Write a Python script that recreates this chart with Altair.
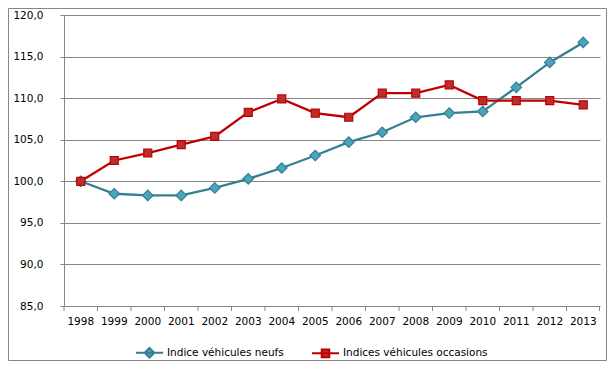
import altair as alt
import pandas as pd

years = [str(y) for y in range(1998, 2014)]
neufs = [100.0, 98.5, 98.3, 98.3, 99.2, 100.3, 101.6, 103.1, 104.7, 105.9, 107.7, 108.2, 108.4, 111.3, 114.3, 116.7]
occasions = [100.0, 102.5, 103.4, 104.4, 105.4, 108.3, 109.9, 108.2, 107.7, 110.6, 110.6, 111.6, 109.7, 109.7, 109.7, 109.2]
series = ["Indice véhicules neufs", "Indices véhicules occasions"]
y_ticks = [85, 90, 95, 100, 105, 110, 115, 120]

FONT = "DejaVu Sans"
GRID = "#868686"
BLUE_LINE = "#357F93"
BLUE_FILL = "#4AA5BC"
RED_LINE = "#C00000"
RED_FILL = "#BB2E2E"

W, H = 536, 291
PAD = {"left": 56, "top": 7, "right": 7, "bottom": 55}

df = pd.DataFrame({
    "annee": years * 2,
    "valeur": neufs + occasions,
    "serie": [series[0]] * len(years) + [series[1]] * len(years),
})
df_n = df[df.serie == series[0]]
df_o = df[df.serie == series[1]]

xscale = alt.Scale(type="band", domain=years, paddingInner=0, paddingOuter=0)
yscale = alt.Scale(domain=[85, 120], nice=False, zero=False)

x_axis = alt.Axis(ticks=False, domain=False, grid=False, labelAngle=0,
                  labelFont=FONT, labelFontSize=10.5, labelColor="#000",
                  labelPadding=10)
x_enc = alt.X("annee:O", scale=xscale, bandPosition=0.5, title=None, axis=x_axis)
y_enc = alt.Y("valeur:Q", scale=yscale, title=None,
              axis=alt.Axis(values=y_ticks, grid=True, gridColor=GRID, gridWidth=1,
                            domain=True, domainColor=GRID, domainWidth=1,
                            ticks=True, tickColor=GRID, tickSize=4,
                            labelFont=FONT, labelFontSize=10.5, labelColor="#000",
                            labelPadding=17,
                            labelExpr="replace(format(datum.value, '.1f'), '.', ',')"))

def series_layers(data, line_color, fill_color, shape, size):
    line = alt.Chart(data).mark_line(color=line_color, strokeWidth=2.3).encode(x=x_enc, y=y_enc)
    pts = alt.Chart(data).mark_point(shape=shape, filled=True, fill=fill_color,
                                     stroke=line_color, strokeWidth=1.2, size=size,
                                     opacity=1).encode(x=x_enc, y=y_enc)
    return [line, pts]

# x-axis ticks at category boundaries
tick_df = pd.DataFrame({"annee": years})
ticks = alt.Chart(tick_df).mark_rule(color=GRID, strokeWidth=1).encode(
    x=alt.X("annee:O", scale=xscale, bandPosition=0, title=None, axis=x_axis),
    y=alt.value(H), y2=alt.value(H + 5))
end_tick = alt.Chart(pd.DataFrame({"a": [0]})).mark_rule(color=GRID, strokeWidth=1).encode(
    x=alt.value(W - 0.5), y=alt.value(H), y2=alt.value(H + 5))

# outer border
border = alt.Chart(pd.DataFrame({"a": [0]})).mark_rect(
    fillOpacity=0, stroke=GRID, strokeWidth=1).encode(
    x=alt.value(-PAD["left"] + 0.5), x2=alt.value(W + PAD["right"] - 0.5),
    y=alt.value(-PAD["top"] + 0.5), y2=alt.value(H + PAD["bottom"] - 0.5))

# legend (line + marker symbols)
leg_props = dict(orient="none", legendX=71, legendY=323, direction="horizontal",
                 title=None, symbolSize=729, symbolStrokeWidth=2, symbolOpacity=1,
                 labelFont=FONT, labelFontSize=10.5, labelColor="#000",
                 labelOffset=3, columnPadding=24, padding=0)
legend_df = pd.DataFrame({"serie": series})
legend_layer = alt.Chart(legend_df).transform_filter("false").mark_point(filled=True, opacity=1).encode(
    shape=alt.Shape("serie:N", scale=alt.Scale(domain=series, range=[
        "M-1,0L1,0M0,-0.36L0.36,0L0,0.36L-0.36,0Z",
        "M-1,0L1,0M-0.28,-0.28L0.28,-0.28L0.28,0.28L-0.28,0.28Z"]),
        legend=alt.Legend(**leg_props)),
    fill=alt.Fill("serie:N", scale=alt.Scale(domain=series, range=[BLUE_FILL, RED_FILL]),
                  legend=alt.Legend(**leg_props)),
    stroke=alt.Stroke("serie:N", scale=alt.Scale(domain=series, range=[BLUE_LINE, RED_LINE]),
                      legend=alt.Legend(**leg_props)),
)

layers = [border, ticks, end_tick] + series_layers(df_n, BLUE_LINE, BLUE_FILL, "diamond", 110) \
    + series_layers(df_o, RED_LINE, RED_FILL, "square", 64) + [legend_layer]

chart = alt.layer(*layers).properties(
    width=W, height=H, padding=PAD,
    autosize=alt.AutoSizeParams(type="none"),
    background="white",
).configure_view(stroke=None)

chart.save("out.html", embed_options={"renderer": "svg", "actions": False})
